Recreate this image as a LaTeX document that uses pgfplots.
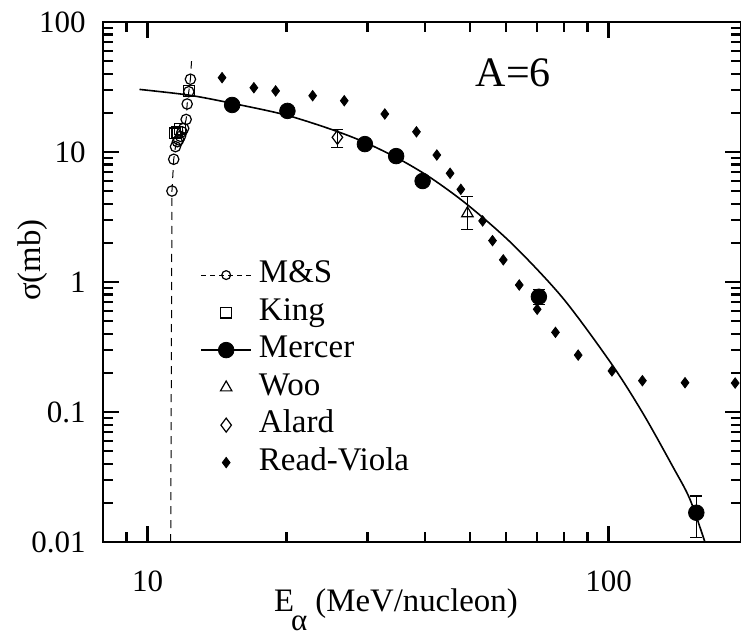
\documentclass[border=0pt]{standalone}
\usepackage{fontspec}
\setmainfont{Liberation Serif}
\usepackage{pgfplots}
\pgfplotsset{compat=1.18}
\begin{document}
\begin{tikzpicture}
\begin{axis}[
  xmode=log, ymode=log,
  scale only axis, width=319pt, height=260pt,
  xmin=8, xmax=193.8, ymin=0.01, ymax=100,
  axis on top,
  axis line style={line width=1pt},
  log ticks with fixed point,
  tick align=inside, major tick length=8pt, minor tick length=5pt,
  every major tick/.append style={black, line width=1.3pt},
  every minor tick/.append style={black, line width=1.1pt},
  xticklabel style={font=\fontsize{15.5}{18}\selectfont, inner sep=0pt, anchor=north, yshift=-14pt},
  yticklabel style={font=\fontsize{15.5}{18}\selectfont, inner sep=0pt, anchor=east, xshift=-8.5pt},
  /pgf/number format/assume math mode=true,
  xlabel={E\kern-1.5pt\raisebox{-9.5pt}{\fontsize{15.5}{15.5}\selectfont α} (MeV/nucleon)},
  xlabel style={at={(axis description cs:0.459,-0.134)}, anchor=base, inner sep=0pt, font=\fontsize{16.4}{19}\selectfont},
  ylabel={σ(mb)},
  ylabel style={at={(axis description cs:-0.0972,0.542)}, anchor=base, inner sep=0pt, font=\fontsize{16.4}{19}\selectfont},
  legend style={at={(axis description cs:0.152,0.333)}, anchor=west, draw=none, fill=none,
    font=\fontsize{16.5}{18.75}\selectfont, inner sep=0pt, row sep=1.25pt,
    nodes={inner sep=0pt, text height=12.5pt, text depth=5pt},
    /tikz/every odd column/.append style={column sep=3.5pt}},
  legend cell align=left,
  legend image code/.code={\draw[mark repeat=2,mark phase=2,#1] plot coordinates {(0pt,0pt) (12.5pt,0pt) (25pt,0pt)};},
]
% M&S connecting line
\addplot[forget plot, black, line width=0.5pt, dash pattern=on 4pt off 3pt] coordinates {
 (11.22,0.01) (11.29,5.01) (11.39,8.79) (11.49,10.99) (11.60,12.0) (11.68,12.4) (11.78,13.2)
 (11.87,14.3) (11.97,15.2) (12.12,17.8) (12.18,23.4) (12.28,29.1) (12.38,36.3) (12.45,50)};
% M&S
\addplot[only marks, black, mark=o, mark size=2.6pt, mark options={line width=0.6pt},
  legend image code/.code={\draw[black,line width=0.5pt,dash pattern=on 2.5pt off 2pt](0pt,0pt)--(25pt,0pt);
    \draw[black, only marks, mark=o, mark size=2.2pt, mark options={line width=0.6pt}, mark repeat=2, mark phase=2] plot coordinates {(0pt,0pt) (12.5pt,0pt) (25pt,0pt)};}]
 coordinates {(11.29,5.01) (11.39,8.79) (11.49,10.99) (11.60,12.0) (11.68,12.4) (11.78,13.2)
 (11.87,14.3) (11.97,15.2) (12.12,17.8) (12.18,23.4) (12.28,29.1) (12.38,36.3)};
\addlegendentry{M\&S}
% King
\addplot[only marks, black, mark=square, mark size=2.7pt, mark options={line width=0.6pt}]
 coordinates {(11.45,13.9) (11.60,14.3) (11.75,15.0) (12.28,29.5)};
\addlegendentry{King}
% Mercer curve
\addplot[forget plot, black, line width=0.8pt, smooth] coordinates {
 (9.6,30.3) (12.27,27.4) (15.24,23.7) (19.9,19.3) (25.2,14.8) (29.7,11.8) (35.2,8.79)
 (41.2,6.30) (49.4,3.93) (61.9,1.95) (79.6,0.752) (101.6,0.233) (118.9,0.0968) (138.0,0.0377)
 (150.0,0.0215) (161.8,0.01)};
% Mercer points
\addplot[only marks, black, mark=*, mark size=3.9pt,
  legend image code/.code={\draw[black,line width=0.8pt](0pt,0pt)--(25pt,0pt);
    \draw[black, only marks, mark=*, mark size=3.9pt, mark repeat=2, mark phase=2] plot coordinates {(0pt,0pt) (12.5pt,0pt) (25pt,0pt)};},
  error bars/.cd, y dir=both, y explicit,
  error bar style={line width=0.6pt}, error mark options={rotate=90, mark size=3pt, line width=0.6pt}]
 coordinates {(15.25,23.0) (20.1,20.7) (29.6,11.5) (34.6,9.3) (39.5,5.98)
 (70.6,0.77) +- (0,0.1) (155,0.0168) += (0,0.0058) -= (0,0.006)};
\addlegendentry{Mercer}
% Woo
\addplot[only marks, black, mark=triangle, mark size=3.3pt, mark options={line width=0.6pt},
  error bars/.cd, y dir=both, y explicit,
  error bar style={line width=0.6pt}, error mark options={rotate=90, mark size=3pt, line width=0.6pt}]
 coordinates {(49.4,3.37) += (0,1.16) -= (0,0.83)};
\addlegendentry{Woo}
% Alard
\addplot[only marks, black, mark=diamond, mark size=3.5pt, mark options={line width=0.6pt},
  error bars/.cd, y dir=both, y explicit,
  error bar style={line width=0.6pt}, error mark options={rotate=90, mark size=3pt, line width=0.6pt}]
 coordinates {(25.8,12.97) += (0,1.98) -= (0,2.1)};
\addlegendentry{Alard}
% Read-Viola
\addplot[only marks, black, mark=diamond*, mark size=2.6pt]
 coordinates {(14.5,37.3) (17.0,31.2) (18.95,29.5) (22.8,27.1) (26.7,24.8) (32.7,19.6)
 (38.3,14.3) (42.4,9.48) (45.3,6.86) (47.8,5.16) (53.3,2.95) (56.0,2.08) (59.1,1.48)
 (64.0,0.948) (70.0,0.617) (76.7,0.410) (85.9,0.274) (101.7,0.207) (118.4,0.174)
 (146.5,0.168) (188.2,0.167)};
\addlegendentry{Read-Viola}
\node[font=\fontsize{21}{25}\selectfont, inner sep=0pt] at (axis description cs:0.643,0.902) {A=6};
\end{axis}
\pgfresetboundingbox
\path ([xshift=-51.5pt,yshift=-46.5pt]current axis.south west) rectangle ([yshift=11pt]current axis.north east);
\end{tikzpicture}
\end{document}
